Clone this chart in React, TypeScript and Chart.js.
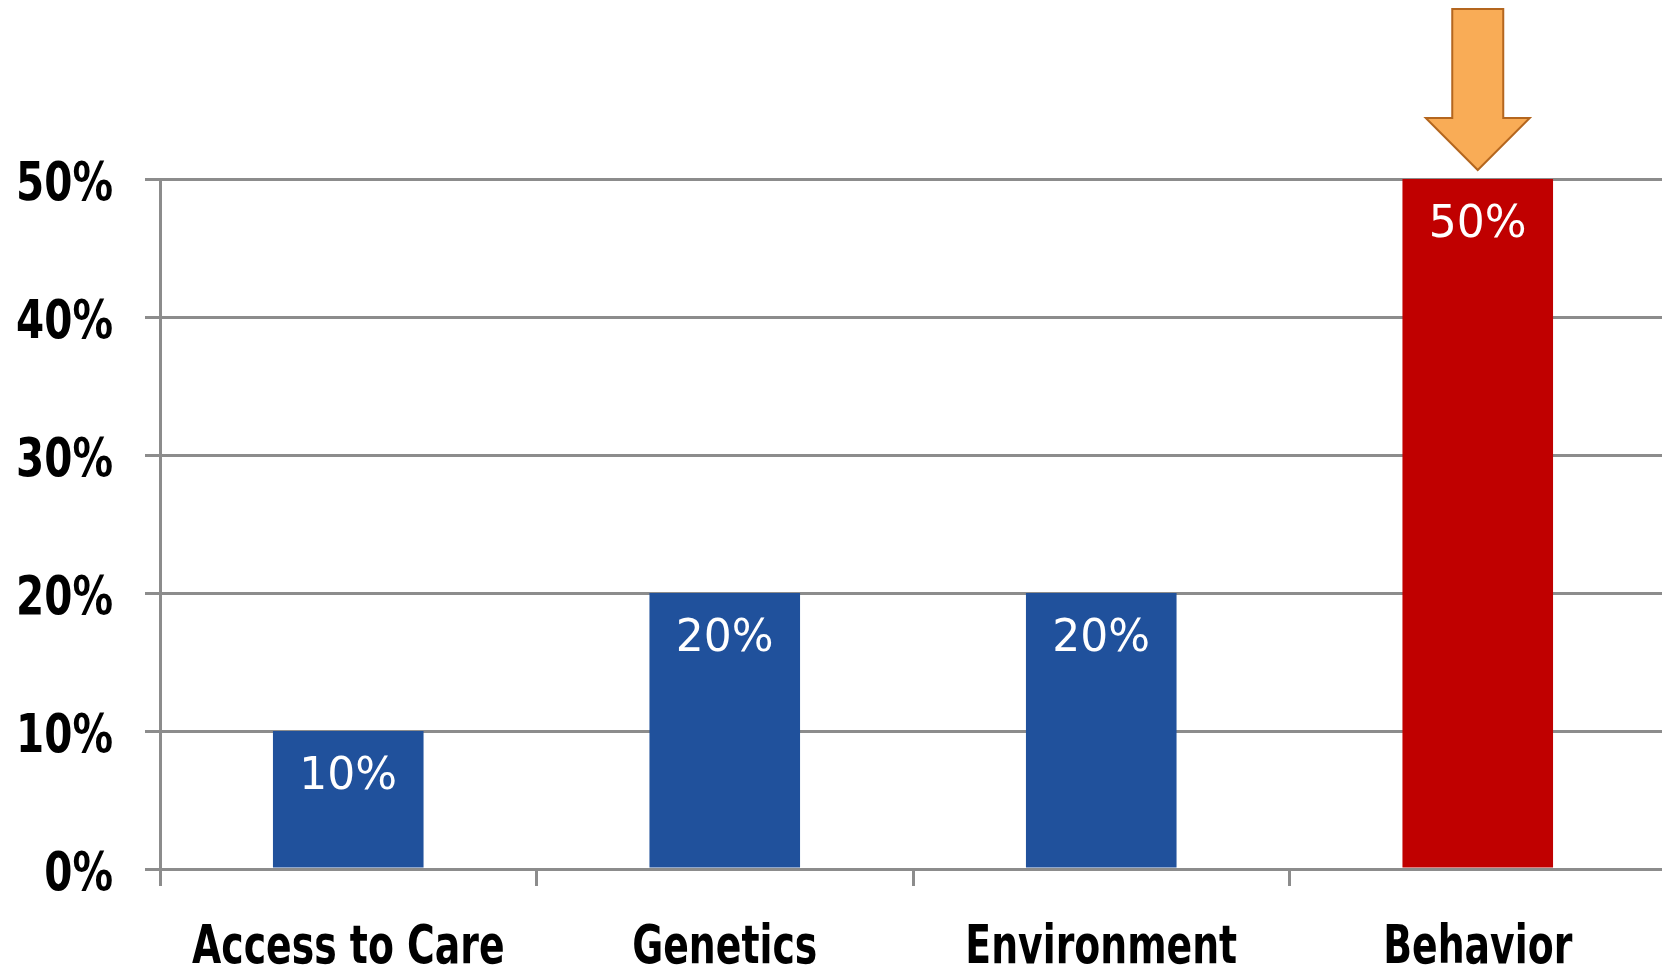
import React, { useEffect, useRef } from "react";
import { Chart, registerables } from "chart.js";

Chart.register(...registerables);

// Share of health outcomes attributed to each determinant
const categories = ["Access to Care", "Genetics", "Environment", "Behavior"];
const shares = [10, 20, 20, 50];
const barColors = ["#20519C", "#20519C", "#20519C", "#C00000"];
const yMax = 50;
const yStep = 10;
const highlightIndex = 3;

const VIEW_WIDTH = 1662;
const CANVAS_WIDTH = 1666; // plot runs slightly past the right edge
const HEIGHT = 967;
const AXIS_GRAY = "#8C8C8C";

// Draws text stretched vertically, anchored at its baseline
function tallText(ctx: CanvasRenderingContext2D, text: string, x: number, y: number, stretch: number) {
  ctx.save();
  ctx.translate(x, y);
  ctx.scale(1, stretch);
  ctx.fillText(text, 0, 0);
  ctx.restore();
}

export default function App() {
  const canvasRef = useRef<HTMLCanvasElement>(null);

  useEffect(() => {
    document.body.style.margin = "0";
    const canvas = canvasRef.current;
    if (!canvas) return;

    // White percentage text inside the top of each bar
    const valueLabels = {
      id: "valueLabels",
      afterDatasetsDraw(chart: any) {
        const { ctx } = chart;
        const meta = chart.getDatasetMeta(0);
        ctx.save();
        ctx.fillStyle = "#FFFFFF";
        ctx.font = "44px 'DejaVu Sans'";
        ctx.textAlign = "center";
        ctx.textBaseline = "alphabetic";
        meta.data.forEach((bar: any, i: number) => {
          ctx.fillText(shares[i] + "%", bar.x, bar.y + 58);
        });
        ctx.restore();
      },
    };

    // Bold axis labels: category names below, percentages on the left
    const axisLabels = {
      id: "axisLabels",
      afterDraw(chart: any) {
        const { ctx, chartArea } = chart;
        const xScale = chart.scales.x;
        const yScale = chart.scales.y;
        ctx.save();
        ctx.fillStyle = "#000000";
        ctx.textBaseline = "alphabetic";

        ctx.font = "bold 37.8px 'DejaVu Sans'";
        ctx.textAlign = "center";
        categories.forEach((label, i) => {
          tallText(ctx, label, xScale.getPixelForTick(i), chartArea.bottom + 94, 1.4);
        });

        ctx.font = "bold 40.5px 'DejaVu Sans'";
        ctx.textAlign = "right";
        yScale.ticks.forEach((t: any) => {
          const y = yScale.getPixelForValue(t.value);
          tallText(ctx, t.value + "%", chartArea.left - 47, y + 21, 1.3);
        });
        ctx.restore();
      },
    };

    // Down arrow pointing at the highlighted bar
    const pointerArrow = {
      id: "pointerArrow",
      afterDraw(chart: any) {
        const { ctx } = chart;
        const bar: any = chart.getDatasetMeta(0).data[highlightIndex];
        if (!bar) return;
        const cx = bar.x;
        const tipY = bar.y - 9;
        const headH = 52;
        const headHalf = 52;
        const shaftHalf = 25.5;
        const topY = 9;
        const baseY = tipY - headH;
        ctx.save();
        ctx.beginPath();
        ctx.moveTo(cx - shaftHalf, topY);
        ctx.lineTo(cx + shaftHalf, topY);
        ctx.lineTo(cx + shaftHalf, baseY);
        ctx.lineTo(cx + headHalf, baseY);
        ctx.lineTo(cx, tipY);
        ctx.lineTo(cx - headHalf, baseY);
        ctx.lineTo(cx - shaftHalf, baseY);
        ctx.closePath();
        ctx.fillStyle = "#F9AC56";
        ctx.fill();
        ctx.lineWidth = 2;
        ctx.strokeStyle = "#B4661E";
        ctx.stroke();
        ctx.restore();
      },
    };

    const chart = new Chart(canvas, {
      type: "bar",
      data: {
        labels: categories,
        datasets: [
          {
            data: shares,
            backgroundColor: barColors,
            borderWidth: 0,
            barPercentage: 0.4,
            categoryPercentage: 1,
          },
        ],
      },
      options: {
        responsive: false,
        animation: false,
        events: [],
        layout: { padding: { top: 179, right: 0, bottom: 0, left: 0 } },
        plugins: {
          legend: { display: false },
          tooltip: { enabled: false },
        },
        scales: {
          x: {
            grid: {
              display: true,
              drawOnChartArea: false,
              offset: true,
              color: AXIS_GRAY,
              lineWidth: 3,
              tickLength: 17,
            },
            border: { display: true, color: AXIS_GRAY, width: 3 },
            ticks: { display: false },
            afterFit(scale: any) {
              scale.height = 98;
            },
          },
          y: {
            min: 0,
            max: yMax,
            ticks: {
              stepSize: yStep,
              display: false,
            },
            grid: {
              color: AXIS_GRAY,
              lineWidth: 3,
              tickLength: 15,
            },
            border: { display: true, color: AXIS_GRAY, width: 3 },
            afterFit(scale: any) {
              scale.width = 160;
            },
          },
        },
      },
      plugins: [valueLabels, axisLabels, pointerArrow],
    });

    return () => chart.destroy();
  }, []);

  return (
    <div style={{ width: VIEW_WIDTH, height: HEIGHT, overflow: "hidden", background: "#FFFFFF" }}>
      <canvas ref={canvasRef} width={CANVAS_WIDTH} height={HEIGHT} style={{ display: "block" }} />
    </div>
  );
}
